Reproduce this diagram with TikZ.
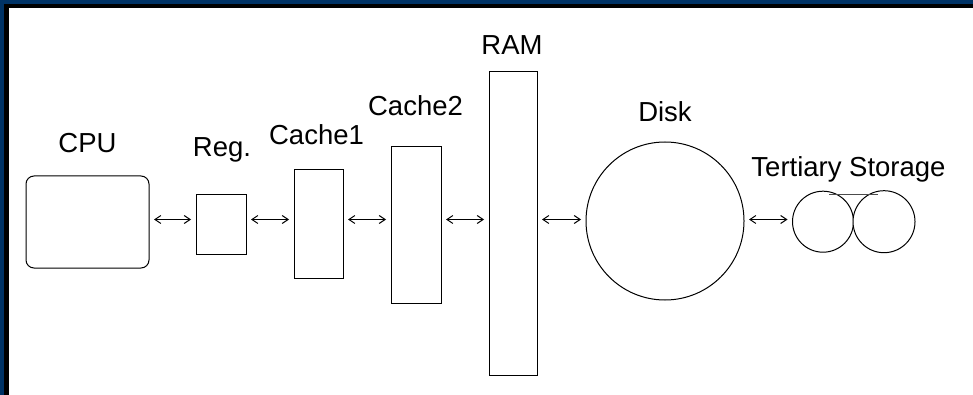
\documentclass[tikz,border=0pt]{standalone}
\usepackage{fontspec}
\setmainfont{Liberation Sans}
\usetikzlibrary{arrows.meta}
\definecolor{framenavy}{RGB}{0,51,102}
\begin{document}
\begin{tikzpicture}[x=1pt,y=-1pt,
  unit/.style={draw=black,line width=1pt,inner sep=0pt,fill=white},
  lbl/.style={anchor=base,inner sep=0pt,font=\fontsize{27.5}{33}\selectfont},
  link/.style={line width=1pt,{Straight Barb[length=6pt,width=8pt]}-{Straight Barb[length=6pt,width=8pt]},
               shorten <=4.5pt,shorten >=4.5pt}]
\useasboundingbox (0,0) rectangle (973,395);
\fill[white] (0,0) rectangle (973,395);
% frame along the top and left edges
\fill[framenavy] (0,0) rectangle (973,4);
\fill[framenavy] (0,0) rectangle (4,395);
\fill[black] (4,4) rectangle (973,8);
\fill[black] (4,4) rectangle (9,395);

% storage hierarchy
\node[unit,rounded corners=8pt,minimum width=123pt,minimum height=92pt] (cpu) at (87.5,222) {};
\node[unit,minimum width=50pt,minimum height=59pt] (reg) at (221,224.5) {};
\node[unit,minimum width=49pt,minimum height=108pt] (c1) at (318.5,224) {};
\node[unit,minimum width=50pt,minimum height=156pt] (c2) at (416,225) {};
\node[unit,minimum width=48pt,minimum height=303pt] (ram) at (513,223.5) {};
\node[unit,circle,minimum size=158pt] (disk) at (665,221) {};
\node[unit,circle,minimum size=61pt] (t1) at (823,221.7) {};
\node[unit,circle,minimum size=62pt] (t2) at (884,221.7) {};
\coordinate (tl) at (829,194.3);
\coordinate (tr) at (878,194.3);
\draw[line width=1pt,black!70] (tl) -- (tr);

% labels
\node[lbl] (lcpu) at (87.5,153) {CPU};
\node[lbl] (lreg) at (222,157) {Reg.};
\node[lbl] (lc1) at (316.5,145) {Cache1};
\node[lbl] (lc2) at (415.5,116) {Cache2};
\node[lbl] (lram) at (512,55) {RAM};
\node[lbl] (ldisk) at (665,121.5) {Disk};
\node[lbl] (lter) at (848.5,176.5) {Tertiary Storage};

% connectors
\coordinate (row) at (0,219.5);
\draw[link] (cpu.east|-row) -- (reg.west|-row);
\draw[link] (reg.east|-row) -- (c1.west|-row);
\draw[link] (c1.east|-row) -- (c2.west|-row);
\draw[link] (c2.east|-row) -- (ram.west|-row);
\draw[link] (ram.east|-row) -- (disk.west|-row);
\draw[link] (disk.east|-row) -- (t1.west|-row);
\end{tikzpicture}
\end{document}
